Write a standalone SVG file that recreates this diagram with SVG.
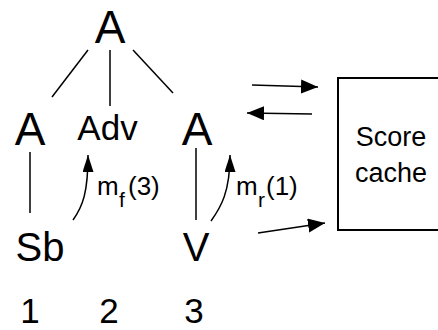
<svg xmlns="http://www.w3.org/2000/svg" width="438" height="330" viewBox="0 0 438 330">
<style>
text { font-family: "Liberation Sans", Arial, sans-serif; fill: #000; }
.big { font-size: 46px; text-anchor: middle; }
.mid { font-size: 40px; text-anchor: middle; }
.num { font-size: 35px; text-anchor: middle; }
.lbl { font-size: 26px; }
.sub { font-size: 21px; }
.box { font-size: 27px; text-anchor: middle; }
.ln { stroke: #000; stroke-width: 1.5; fill: none; }
</style>
<defs>
<marker id="ah" markerUnits="userSpaceOnUse" markerWidth="20" markerHeight="16" refX="17" refY="7" orient="auto">
<path d="M0,0 L17,7 L0,14 Z" fill="#000"/>
</marker>
<marker id="ahs" markerUnits="userSpaceOnUse" markerWidth="20" markerHeight="14" refX="17" refY="5.5" orient="auto">
<path d="M0,0 L17,5.5 L0,11 Z" fill="#000"/>
</marker>
</defs>
<g id="connectors">
<line class="ln" x1="88" y1="50" x2="52" y2="97"/>
<line class="ln" x1="110" y1="50" x2="110" y2="106"/>
<line class="ln" x1="133" y1="50" x2="173" y2="93"/>
<line class="ln" x1="30" y1="152" x2="30" y2="213"/>
<line class="ln" x1="196" y1="148" x2="196" y2="220"/>
<path class="ln" d="M73,220 C83,206 88,192 88,155" marker-end="url(#ahs)"/>
<path class="ln" d="M211,221 C221,207 230,192 230,155" marker-end="url(#ahs)"/>
<line class="ln" x1="252" y1="85" x2="318" y2="87" marker-end="url(#ah)"/>
<line class="ln" x1="312" y1="114" x2="247" y2="113" marker-end="url(#ah)"/>
<line class="ln" x1="258" y1="233" x2="325" y2="223" marker-end="url(#ah)"/>
</g>
<g id="n-top"><text class="big" x="110" y="43">A</text></g>
<g id="n-a1"><text class="big" x="30" y="145">A</text></g>
<g id="n-adv"><text class="big" x="107.5" y="140" style="font-size:35px">Adv</text></g>
<g id="n-a3"><text class="big" x="197" y="145">A</text></g>
<g id="n-sb"><text class="mid" x="40" y="261">Sb</text></g>
<g id="n-v"><text class="mid" x="196" y="261">V</text></g>
<g id="n-nums">
<text class="num" x="30" y="323">1</text>
<text class="num" x="109" y="323">2</text>
<text class="num" x="194" y="323">3</text>
</g>
<g id="lbl-mf">
<text class="lbl" x="97" y="195">m</text>
<text class="sub" x="119" y="207">f</text>
<text class="lbl" x="128" y="195">(3)</text>
</g>
<g id="lbl-mr">
<text class="lbl" x="236" y="195">m</text>
<text class="sub" x="258" y="207">r</text>
<text class="lbl" x="266" y="195">(1)</text>
</g>
<g id="n-cache">
<rect x="338" y="78" width="110" height="152" fill="none" stroke="#000" stroke-width="2"/>
<text class="box" x="391" y="146">Score</text>
<text class="box" x="391" y="182">cache</text>
</g>
</svg>
